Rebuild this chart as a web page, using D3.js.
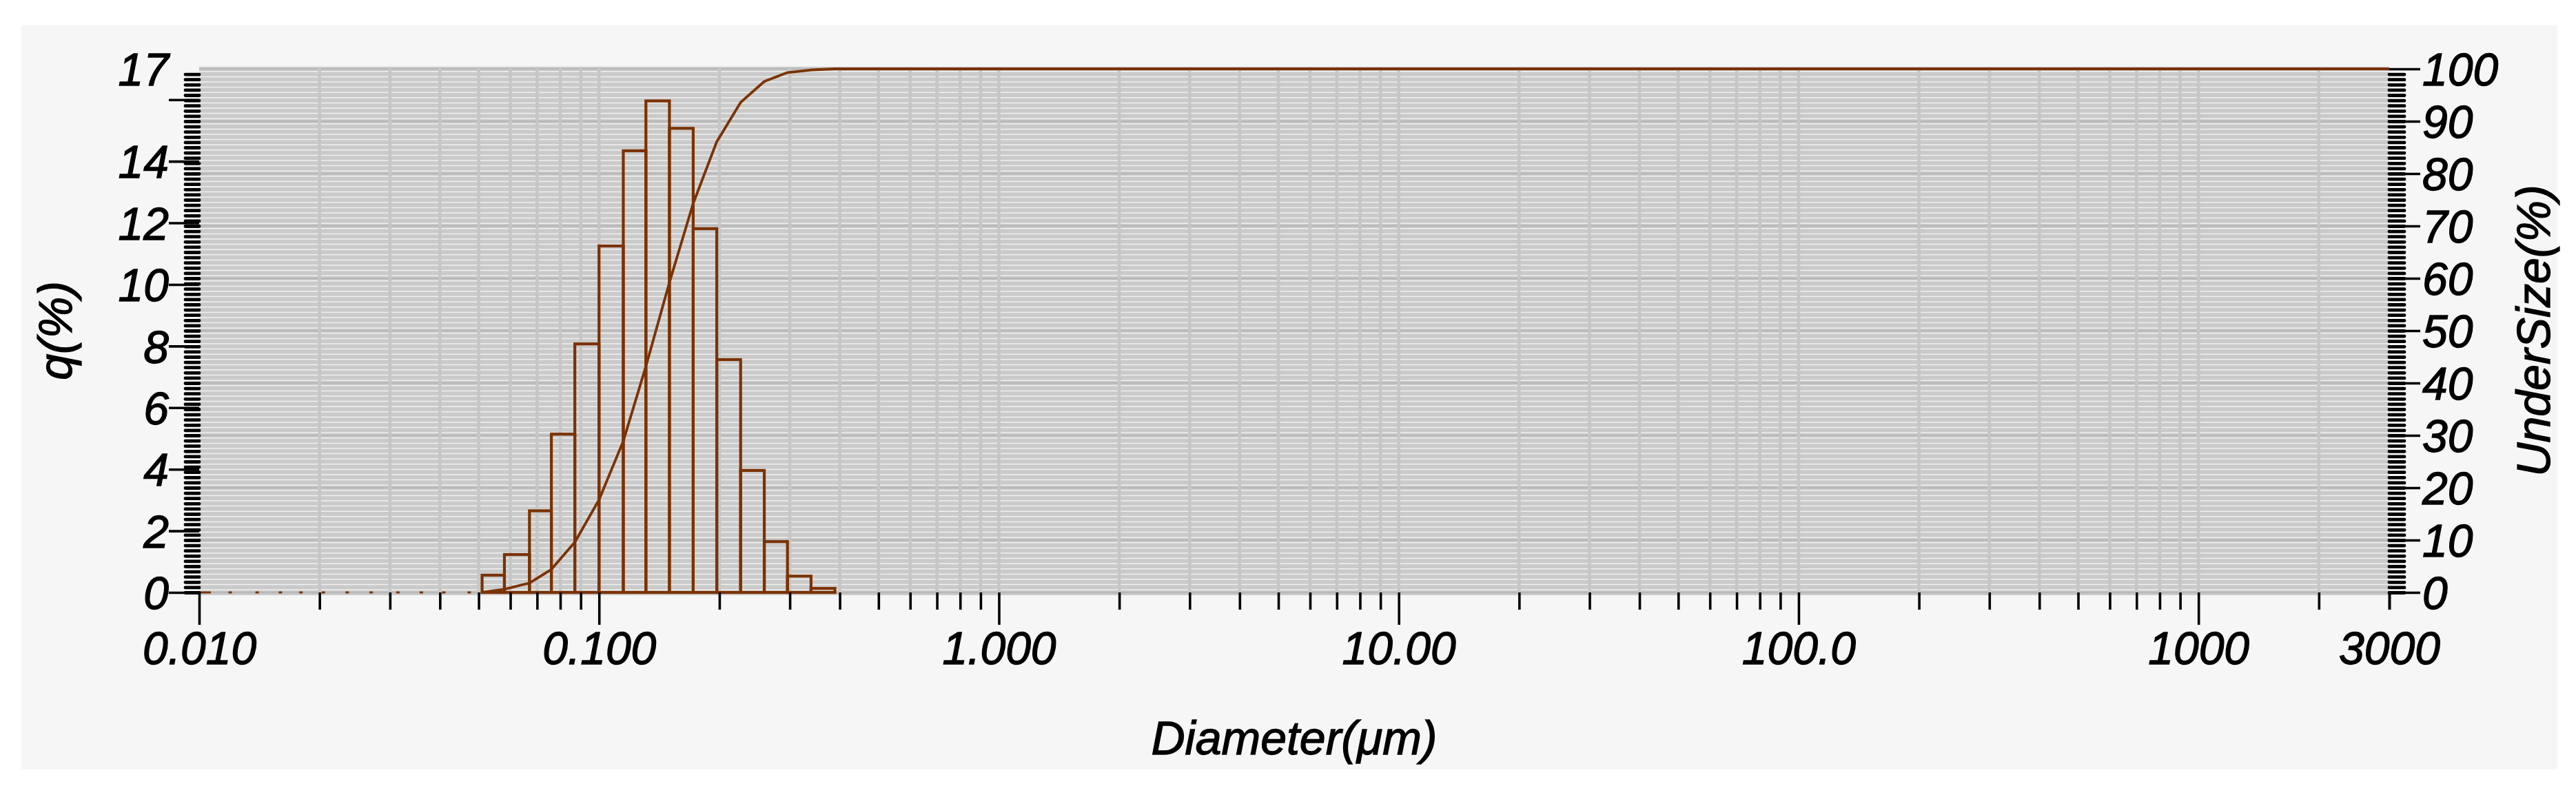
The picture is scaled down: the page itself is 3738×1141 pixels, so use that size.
<!DOCTYPE html>
<html>
<head>
<meta charset="utf-8">
<script src="https://cdn.jsdelivr.net/npm/d3@7"></script>
<style>
  html, body { margin: 0; padding: 0; background: #ffffff; }
  svg { display: block; }
</style>
</head>
<body>
<div id="chart"></div>
<script>
// particle size channels (um), q(%) for each channel between two edges
const channelEdges = [0.011, 0.013, 0.015, 0.017, 0.019, 0.022, 0.025, 0.029, 0.034, 0.038, 0.044,
                      0.051, 0.058, 0.067, 0.076, 0.087, 0.100, 0.115, 0.131, 0.150, 0.172, 0.197,
                      0.226, 0.259, 0.296, 0.339, 0.389];
const qValues = [0, 0, 0, 0, 0, 0, 0, 0, 0, 0, 0,
                 0.56, 1.23, 2.65, 5.14, 8.07, 11.25, 14.34, 15.96, 15.07, 11.81, 7.56, 3.96, 1.65, 0.53, 0.13];

// cumulative undersize curve
const undersizeDiam = [0.051, 0.058, 0.067, 0.076, 0.087, 0.100, 0.115, 0.131, 0.150, 0.172, 0.197,
                       0.226, 0.259, 0.296, 0.339, 0.389, 3000];
const undersizePct = [0, 0.6, 1.8, 4.4, 9.6, 17.7, 28.9, 43.2, 59.2, 74.3, 86.1,
                      93.6, 97.6, 99.3, 99.8, 100, 100];

// ticks
const xTickValues = [0.01, 0.1, 1, 10, 100, 1000, 3000];
const xTickLabels = ["0.010", "0.100", "1.000", "10.00", "100.0", "1000", "3000"];
const qTickValues = [0, 2, 4, 6, 8, 10, 12, 14, 16, 17];
const qTickLabels = ["0", "2", "4", "6", "8", "10", "12", "14", "", "17"];
const underTickValues = [0, 10, 20, 30, 40, 50, 60, 70, 80, 90, 100];

const brown = "#7b3200";
const font = "'Liberation Sans', Arial, sans-serif";

const W = 3738, H = 1141;
const plotLeft = 289, plotRight = 3467, plotTop = 100, plotBottom = 860;

const svg = d3.select("#chart").append("svg")
    .attr("width", W)
    .attr("height", H);

svg.append("rect").attr("width", W).attr("height", H).attr("fill", "#ffffff");
svg.append("rect")
    .attr("x", 31).attr("y", 37)
    .attr("width", 3680).attr("height", 1080)
    .attr("fill", "#f6f6f6");

const x = d3.scaleLog().domain([0.01, 3000]).range([plotLeft, plotRight]);
const yL = d3.scaleLinear().domain([0, 17]).range([plotBottom, plotTop]);
const yR = d3.scaleLinear().domain([0, 100]).range([plotBottom, plotTop]);

//Grid
const grid = svg.append("g");
grid.append("rect")
    .attr("x", plotLeft).attr("y", plotTop - 3)
    .attr("width", plotRight - plotLeft).attr("height", plotBottom - plotTop + 7)
    .attr("fill", "#cacaca");

grid.selectAll("line.hminor")
    .data(d3.range(0, 101, 1))
    .enter().append("line")
    .attr("class", "hminor")
    .attr("x1", plotLeft).attr("x2", plotRight)
    .attr("y1", d => yR(d) - 3.8).attr("y2", d => yR(d) - 3.8)
    .attr("stroke", "#f0f0f0")
    .attr("stroke-width", 1.5);

grid.selectAll("line.hmajor")
    .data(underTickValues)
    .enter().append("line")
    .attr("class", "hmajor")
    .attr("x1", plotLeft).attr("x2", plotRight)
    .attr("y1", d => yR(d)).attr("y2", d => yR(d))
    .attr("stroke", "#b8b8b8")
    .attr("stroke-width", 2.5);

grid.selectAll("line.v")
    .data(x.ticks().filter(d => d > 0.01 && d < 3000))
    .enter().append("line")
    .attr("class", "v")
    .attr("x1", d => x(d)).attr("x2", d => x(d))
    .attr("y1", plotTop - 3).attr("y2", plotBottom + 4)
    .attr("stroke", "#c6c6c6")
    .attr("stroke-width", 4.5);

//Histogram
const bins = qValues.map((q, i) => ({ lo: channelEdges[i], hi: channelEdges[i + 1], q: q }));

svg.append("g").selectAll("rect")
    .data(bins.filter(d => d.q > 0))
    .enter().append("rect")
    .attr("x", d => x(d.lo))
    .attr("y", d => yL(d.q))
    .attr("width", d => x(d.hi) - x(d.lo))
    .attr("height", d => yL(0) - yL(d.q))
    .attr("fill", "none")
    .attr("stroke", brown)
    .attr("stroke-width", 4.2);

// empty channels show as small marks on the baseline
const zeroMarks = svg.append("g");
zeroMarks.selectAll("rect")
    .data(bins.filter(d => d.q === 0))
    .enter().append("rect")
    .attr("x", d => x(Math.sqrt(d.lo * d.hi)) - 2.5)
    .attr("y", yL(0) - 1.5)
    .attr("width", 5).attr("height", 3)
    .attr("fill", brown);
zeroMarks.append("line")
    .attr("x1", x(0.01)).attr("x2", x(channelEdges[0]) - 7)
    .attr("y1", yL(0)).attr("y2", yL(0))
    .attr("stroke", brown).attr("stroke-width", 3);

//Cumulative curve
const line = d3.line()
    .x((d, i) => x(undersizeDiam[i]))
    .y(d => yR(d));

svg.append("path")
    .datum(undersizePct)
    .attr("d", line)
    .attr("fill", "none")
    .attr("stroke", brown)
    .attr("stroke-width", 3.8)
    .attr("stroke-linejoin", "round");

//Axes
function styleAxis(g) {
    g.select(".domain").remove();
    g.attr("font-family", font).attr("font-size", 66).attr("font-style", "italic");
    g.selectAll("line").attr("stroke", "#000").attr("stroke-width", 3.6);
    g.selectAll("text").attr("fill", "#000").attr("stroke", "#000").attr("stroke-width", 1.3);
}

// left comb of minor ticks
svg.append("g")
    .attr("transform", `translate(${plotLeft},0)`)
    .call(d3.axisLeft(yR).tickValues(d3.range(0, 100, 1)).tickSize(20).tickFormat(""))
    .call(g => g.select(".domain").remove())
    .call(g => g.selectAll("line").attr("stroke", "#000").attr("stroke-width", 4.8).attr("stroke-linecap", "round"));

svg.append("g")
    .attr("transform", `translate(${plotLeft},0)`)
    .call(d3.axisLeft(yL).tickValues(qTickValues).tickSize(44).tickPadding(0)
        .tickFormat((d, i) => qTickLabels[i]))
    .call(styleAxis)
    .call(g => g.selectAll(".tick").filter(d => d === 17).select("line").remove())
    .call(g => g.selectAll("text").attr("dy", "0.36em"));

// right comb of minor ticks
svg.append("g")
    .attr("transform", `translate(${plotRight},0)`)
    .call(d3.axisRight(yR).tickValues(d3.range(0, 100, 1)).tickSize(22).tickFormat(""))
    .call(g => g.select(".domain").remove())
    .call(g => g.selectAll("line").attr("stroke", "#000").attr("stroke-width", 4.8).attr("stroke-linecap", "round"));

svg.append("g")
    .attr("transform", `translate(${plotRight},0)`)
    .call(d3.axisRight(yR).tickValues(underTickValues).tickSize(45).tickPadding(3))
    .call(styleAxis)
    .call(g => g.selectAll("text").attr("dy", "0.36em"));

// bottom minor ticks
svg.append("g")
    .attr("transform", `translate(0,${plotBottom})`)
    .call(d3.axisBottom(x).tickValues(x.ticks().filter(d => !xTickValues.includes(d) || d === 3000))
        .tickSize(25).tickFormat(""))
    .call(g => g.select(".domain").remove())
    .call(g => g.selectAll("line").attr("stroke", "#000").attr("stroke-width", 3.6));

svg.append("g")
    .attr("transform", `translate(0,${plotBottom})`)
    .call(d3.axisBottom(x).tickValues(xTickValues).tickSize(47).tickPadding(10)
        .tickFormat((d, i) => xTickLabels[i]))
    .call(styleAxis)
    .call(g => g.selectAll(".tick").filter(d => d === 3000).select("line").attr("y2", 25));

//Titles
function title(sel) {
    sel.attr("text-anchor", "middle")
        .style("font-family", font)
        .style("font-style", "italic")
        .style("font-size", "68px")
        .attr("stroke", "#000")
        .attr("stroke-width", 1.3);
}

svg.append("text")
    .attr("x", (plotLeft + plotRight) / 2)
    .attr("y", 1095)
    .call(title)
    .text("Diameter(μm)");

svg.append("text")
    .attr("transform", `translate(104,${(plotTop + plotBottom) / 2}) rotate(-90)`)
    .call(title)
    .text("q(%)");

svg.append("text")
    .attr("transform", `translate(3700,${(plotTop + plotBottom) / 2}) rotate(-90)`)
    .call(title)
    .text("UnderSize(%)");
</script>
</body>
</html>
